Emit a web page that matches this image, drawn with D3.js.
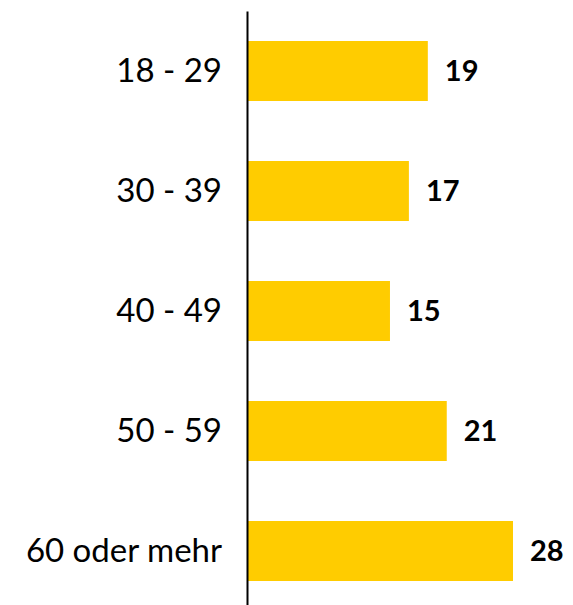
<!DOCTYPE html>
<html>
<head>
<meta charset="utf-8">
<script src="https://cdn.jsdelivr.net/npm/d3@7"></script>
<style>
  body { margin: 0; background: #fff; }
  text { font-family: Lato, "Open Sans", sans-serif; }
</style>
</head>
<body>
<div id="chart"></div>
<script>
// age groups and share values
const categories = ["18 - 29", "30 - 39", "40 - 49", "50 - 59", "60 oder mehr"];
const values = [19, 17, 15, 21, 28];

const width = 573;
const height = 605;
const axisX = 248;

const data = categories.map((c, i) => ({ cat: c, value: values[i] }));

const xScale = d3.scaleLinear().domain([0, 28]).range([axisX, 513]);
const yScale = d3
  .scaleBand()
  .domain(categories)
  .range([11, 611])
  .paddingInner(0.5)
  .paddingOuter(0.25);

const svg = d3
  .select("#chart")
  .append("svg")
  .attr("width", width)
  .attr("height", height);

// bars
svg
  .append("g")
  .selectAll("rect")
  .data(data)
  .join("rect")
  .attr("x", xScale(0))
  .attr("y", (d) => yScale(d.cat))
  .attr("width", (d) => xScale(d.value) - xScale(0))
  .attr("height", yScale.bandwidth())
  .attr("fill", "#ffcc00");

// value labels
svg
  .append("g")
  .selectAll("text")
  .data(data)
  .join("text")
  .attr("x", (d) => xScale(d.value) + 17)
  .attr("y", (d) => yScale(d.cat) + yScale.bandwidth() / 2)
  .attr("dy", "0.36em")
  .attr("font-size", 29)
  .attr("font-weight", "bold")
  .attr("fill", "#000")
  .text((d) => d.value);

// y axis: categories on the left, vertical line only
const yAxis = d3.axisLeft(yScale).tickSize(0).tickPadding(25);
svg
  .append("g")
  .attr("transform", `translate(${axisX - 1},0)`)
  .call(yAxis)
  .call((g) => g.select(".domain").attr("stroke", "#000").attr("stroke-width", 2))
  .call((g) =>
    g
      .selectAll(".tick text")
      .attr("font-size", 33)
      .attr("fill", "#000")
      .style("font-family", "Lato, 'Open Sans', sans-serif")
  );
</script>
</body>
</html>
